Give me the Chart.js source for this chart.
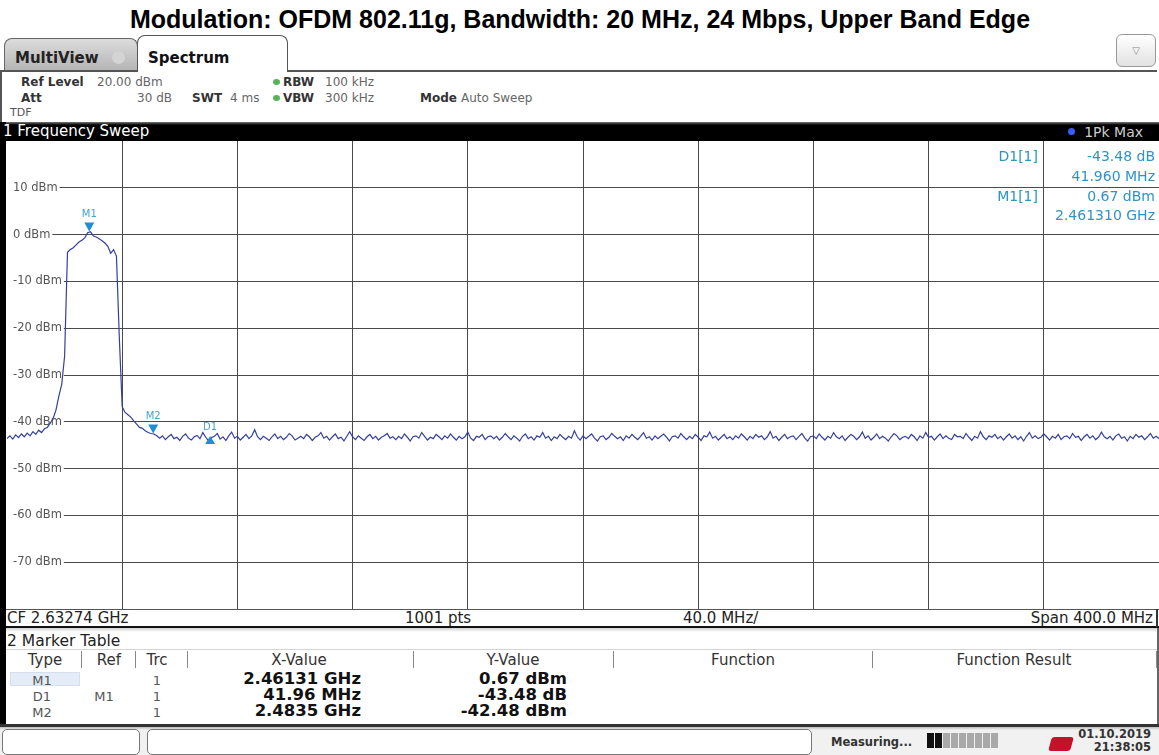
<!DOCTYPE html>
<html>
<head>
<meta charset="utf-8">
<script src="https://cdn.jsdelivr.net/npm/chart.js@4.4.0/dist/chart.umd.min.js"></script>
<style>
  html, body { margin: 0; padding: 0; background: #fff; }
  #page { position: relative; width: 1159px; height: 755px; overflow: hidden; font-family: "DejaVu Sans", sans-serif; }
  .t { position: absolute; white-space: nowrap; line-height: 1; }
  .box { position: absolute; box-sizing: border-box; }
</style>
</head>
<body>
<div id="page">
  <!-- tabs -->
  <div class="box" style="left:4px;top:38px;width:134px;height:33px;border:1px solid #666;border-bottom:none;border-radius:8px 8px 0 0;background:linear-gradient(#dcdcdc,#b4b4b4);"></div>
  <div class="box" style="left:112px;top:51px;width:13px;height:13px;border-radius:50%;background:#d4d4d4;"></div>
  <div class="box" style="left:137px;top:35px;width:151px;height:37px;border:1.5px solid #555;border-bottom:none;border-radius:8px 8px 0 0;background:#fff;"></div>
  <div class="box" style="left:0px;top:70px;width:138px;height:2px;background:#555;"></div>
  <div class="box" style="left:287px;top:70px;width:870px;height:2px;background:#555;"></div>
  <div class="box" style="left:1116px;top:34px;width:40px;height:33px;border:1px solid #999;border-radius:6px;background:linear-gradient(#fff,#e2e2e2);"></div>
  <!-- settings panel -->
  <div class="box" style="left:0px;top:70px;width:2px;height:52px;background:#555;"></div>
  <div class="box" style="left:273px;top:79px;width:7px;height:6px;border-radius:50%;background:#57b25a;"></div>
  <div class="box" style="left:273px;top:95px;width:7px;height:6px;border-radius:50%;background:#57b25a;"></div>
  <!-- trace window title bar -->
  <div class="box" style="left:0px;top:122px;width:1159px;height:19px;background:linear-gradient(#777 0px,#000 3px,#000);"></div>
  <div class="box" style="left:1068px;top:128px;width:7px;height:7px;border-radius:50%;background:#3a5cff;"></div>
  <!-- left frame -->
  <div class="box" style="left:0px;top:122px;width:6px;height:604px;background:#000;"></div>
  <!-- plot -->
  <div id="plot" style="position:absolute;left:7px;top:141px;width:1152px;height:468px;"><canvas id="spec"></canvas></div>
  <!-- CF row -->
  <div class="box" style="left:6px;top:609px;width:1153px;height:1px;background:#555;"></div>
  <div class="box" style="left:6px;top:626px;width:1153px;height:2px;background:#111;"></div>
  <div class="box" style="left:1156px;top:609px;width:2px;height:18px;background:#333;"></div>
  <!-- marker table -->
  <div class="box" style="left:6px;top:628px;width:1152px;height:4px;background:linear-gradient(#cfcfcf,#fff);"></div>
  <div class="box" style="left:6px;top:649px;width:1151px;height:1px;background:#d4d4d4;"></div>
  <div class="box" style="left:10px;top:672px;width:70px;height:14px;background:#e4edf7;border:1px solid #d3dfec;"></div>
  <div class="box" style="left:1157px;top:628px;width:2px;height:97px;background:#666;"></div>
  <div class="box" style="left:0px;top:724px;width:1159px;height:3px;background:#333;"></div>
  <!-- status bar -->
  <div class="box" style="left:0px;top:727px;width:1159px;height:28px;background:linear-gradient(#bdbdbd 0px,#f1f1f1 3px,#f1f1f1);"></div>
  <div class="box" style="left:2px;top:729px;width:138px;height:26px;border:1px solid #777;border-radius:5px;background:#fff;"></div>
  <div class="box" style="left:147px;top:729px;width:665px;height:26px;border:1px solid #777;border-radius:5px;background:#fff;"></div>
  <div class="box" style="left:1050px;top:737px;width:22px;height:14px;border-radius:3px;background:#c4122b;transform:skewX(-15deg);"></div>
  <div id="progress" class="box" style="left:927px;top:733px;width:72px;height:15px;"></div>
</div>
<script>
// frequency axis (GHz): CF 2.63274 GHz, span 400 MHz
const startGHz = 2.43274;
const stopGHz = 2.83274;
const stepGHz = 0.001;
const gridGHz = [2.47274, 2.51274, 2.55274, 2.59274, 2.63274, 2.67274, 2.71274, 2.75274, 2.79274];

// level axis (dBm)
const refLevel = 20;
const bottomLevel = -80;
const levelStep = 10;

// trace 1 (1Pk Max), dBm
const traceDbm = [
  // left noise + lower skirt
  -43.6, -43.0, -43.7, -42.8, -43.4, -42.6, -43.2, -42.4, -43.0, -42.1, -42.7, -41.8, -42.3, -41.5,
  -41.2, -40.3, -39.3, -37.5, -34.5, -32, -26, -3.8,
  // channel 11 (20 MHz)
  -3.2, -2.8, -2.2, -1.6, -1.2, -0.7, 0.4, 0.6, -0.3, -0.5, -0.9, -1.3, -1.8, -2.5, -4.0, -3.2, -4.6,
  // upper skirt
  -22, -36.8, -38, -38.5, -39.0, -39.8, -40.5, -41.2, -41.4, -41.9, -42.3, -42.5, -42.6,
  // noise floor
  -43.0, -43.5, -43.0, -43.8, -43.2, -42.7, -43.6, -43.3, -44.0, -43.1, -42.6, -43.5, -43.9, -43.2, -42.9, -43.6, -42.3, -43.3, -44.1, -43.4,
  -43.1, -42.5, -43.7, -43.2, -44.0, -43.0, -42.2, -43.5, -43.1, -43.9, -43.3, -42.7, -43.6, -43.0, -41.7, -43.2, -43.8, -43.1, -43.5, -44.0,
  -43.2, -42.6, -43.6, -43.1, -43.8, -43.3, -42.5, -43.0, -43.9, -43.5, -43.1, -43.6, -42.7, -43.2, -44.0, -43.3, -43.0, -42.3, -43.5, -43.1,
  -43.9, -43.2, -42.6, -43.6, -43.3, -44.1, -43.1, -42.1, -43.2, -43.8, -43.0, -43.5, -44.0, -43.2, -42.7, -43.6, -43.1, -43.9, -43.3, -43.0,
  -42.5, -43.5, -43.2, -43.8, -43.1, -43.6, -42.6, -43.3, -44.1, -43.2, -43.0, -43.5, -42.3, -43.1, -43.9, -43.3, -43.6, -42.7, -43.2, -43.8,
  -43.0, -43.5, -42.6, -43.3, -43.9, -43.1, -43.6, -43.2, -42.2, -43.5, -44.0, -43.1, -43.3, -42.7, -43.8, -43.2, -43.0, -43.6, -43.1, -43.9,
  -43.3, -42.5, -43.2, -43.8, -43.0, -43.5, -44.1, -43.1, -42.6, -43.6, -43.2, -43.9, -43.0, -43.3, -42.3, -43.5, -43.1, -44.0, -43.2, -43.6,
  -42.7, -43.3, -43.8, -43.1, -43.5, -41.9, -43.2, -43.9, -43.0, -43.6, -43.1, -42.6, -43.5, -44.1, -43.2, -43.0, -43.8, -43.3, -42.5, -43.1,
  -43.6, -43.2, -44.0, -43.0, -43.5, -42.7, -43.3, -43.8, -43.1, -42.3, -43.5, -43.2, -43.9, -43.0, -43.6, -43.1, -42.6, -43.3, -44.1, -43.2,
  -43.0, -43.5, -42.5, -43.2, -43.8, -43.1, -43.6, -42.7, -43.3, -44.0, -43.0, -43.2, -42.2, -43.5, -43.1, -43.9, -43.3, -42.7, -43.6, -43.2,
  -43.8, -43.0, -43.5, -42.6, -43.2, -43.9, -43.1, -43.6, -42.7, -43.3, -43.0, -43.8, -43.2, -42.1, -43.5, -43.1, -44.0, -43.3, -42.7, -43.6,
  -43.2, -43.0, -43.8, -43.1, -42.5, -43.5, -44.1, -43.2, -43.0, -43.6, -42.6, -43.3, -43.9, -43.1, -43.5, -42.3, -43.2, -43.6, -43.0, -44.0,
  -43.3, -42.7, -43.1, -43.8, -43.2, -42.2, -43.5, -43.0, -43.9, -43.3, -42.6, -43.6, -43.1, -43.5, -44.1, -43.2, -42.5, -43.0, -43.8, -43.3,
  -43.1, -43.6, -42.7, -43.2, -44.0, -43.0, -43.5, -42.3, -43.3, -43.1, -43.9, -43.2, -42.6, -43.6, -43.0, -43.5, -43.8, -42.7, -43.2, -43.1,
  -43.6, -42.5, -43.3, -44.0, -43.1, -43.5, -42.1, -43.2, -43.8, -43.0, -43.3, -42.7, -43.6, -43.1, -43.9, -43.2, -42.6, -43.5, -43.0, -43.8,
  -43.2, -44.1, -43.1, -42.3, -43.5, -43.0, -43.6, -43.3, -42.6, -43.2, -43.9, -43.1, -43.5, -42.7, -43.8, -43.2, -43.0, -43.6, -42.5, -43.3,
  -43.1, -44.0, -43.2, -42.7, -43.5, -43.0, -43.8, -43.3, -42.2, -43.2, -43.6, -43.1, -43.9, -43.0, -42.6, -43.5, -43.2, -44.1, -43.1, -43.6,
  -42.7, -43.3, -43.0, -43.8, -43.2, -42.5, -43.5, -43.1, -43.6
];

// markers
const markerNames = ['M1', 'M2', 'D1'];
const markerGHz = [2.46131, 2.4835, 2.50327];
const markerDbm = [0.67, -42.48, -42.81];
const markerUp = [false, false, true];

const page = document.getElementById('page');

const txt = (s, x, cy, size, opts = {}) => {
  const el = document.createElement('div');
  el.className = 't';
  el.textContent = s;
  el.style.fontSize = size + 'px';
  el.style.top = (cy - size / 2) + 'px';
  const align = opts.align || 'left';
  if (align === 'left') {
    el.style.left = x + 'px';
  } else if (align === 'right') {
    el.style.right = (1159 - x) + 'px';
  } else {
    el.style.left = x + 'px';
    el.style.transform = 'translateX(-50%)';
  }
  if (opts.bold) el.style.fontWeight = 'bold';
  if (opts.font) el.style.fontFamily = opts.font;
  el.style.color = opts.color || '#333';
  page.appendChild(el);
};

// title
txt('Modulation: OFDM 802.11g, Bandwidth: 20 MHz, 24 Mbps, Upper Band Edge', 580, 19, 25,
  { align: 'center', bold: true, color: '#000', font: '"Liberation Sans", Arial, sans-serif' });

// tabs
txt('MultiView', 15, 58, 15, { bold: true, color: '#222' });
txt('Spectrum', 148, 58, 15, { bold: true, color: '#111' });
txt('\u25BD', 1136, 51, 10, { align: 'center', color: '#888' });

// settings
txt('Ref Level', 21, 82, 12, { bold: true, color: '#333' });
txt('20.00 dBm', 97, 82, 12, { color: '#666' });
txt('Att', 21, 98, 12, { bold: true, color: '#333' });
txt('30 dB', 172, 98, 12, { align: 'right', color: '#666' });
txt('SWT', 192, 98, 12, { bold: true, color: '#333' });
txt('4 ms', 230, 98, 12, { color: '#666' });
txt('RBW', 283, 82, 12, { bold: true, color: '#333' });
txt('100 kHz', 325, 82, 12, { color: '#666' });
txt('VBW', 283, 98, 12, { bold: true, color: '#333' });
txt('300 kHz', 325, 98, 12, { color: '#666' });
txt('Mode', 420, 98, 12, { bold: true, color: '#333' });
txt('Auto Sweep', 461, 98, 12, { color: '#666' });
txt('TDF', 10, 112, 11, { color: '#555' });

// title bar
txt('1 Frequency Sweep', 3, 131, 15, { color: '#fff' });
txt('1Pk Max', 1143, 132, 14, { align: 'right', color: '#ccc' });

// marker readouts
const blue = '#2f93c6';
txt('D1[1]', 1038, 156, 14, { align: 'right', color: blue });
txt('-43.48 dB', 1155, 156, 14, { align: 'right', color: blue });
txt('41.960 MHz', 1155, 176, 14, { align: 'right', color: blue });
txt('M1[1]', 1038, 196, 14, { align: 'right', color: blue });
txt('0.67 dBm', 1155, 196, 14, { align: 'right', color: blue });
txt('2.461310 GHz', 1155, 215, 14, { align: 'right', color: blue });

// CF row
txt('CF 2.63274 GHz', 7, 618, 15, { color: '#222' });
txt('1001 pts', 405, 618, 15, { color: '#222' });
txt('40.0 MHz/', 683, 618, 15, { color: '#222' });
txt('Span 400.0 MHz', 1153, 618, 15, { align: 'right', color: '#222' });

// marker table
txt('2 Marker Table', 7, 642, 15.5, { color: '#222' });
const colHeads = ['Type', 'Ref', 'Trc', 'X-Value', 'Y-Value', 'Function', 'Function Result'];
const colCenters = [45, 109, 157, 299, 513, 743, 1014];
const colSeps = [81, 135, 187, 413, 613, 872, 1156];
colHeads.forEach((h, i) => txt(h, colCenters[i], 660, 15, { align: 'center', color: '#333' }));
colSeps.forEach(x => {
  const d = document.createElement('div');
  d.className = 'box';
  d.style.cssText = `left:${x}px;top:651px;width:1px;height:17px;background:#888;`;
  page.appendChild(d);
});
const rowType = ['M1', 'D1', 'M2'];
const rowRef = ['', 'M1', ''];
const rowX = ['2.46131 GHz', '41.96 MHz', '2.4835 GHz'];
const rowY = ['0.67 dBm', '-43.48 dB', '-42.48 dBm'];
const rowCy = [679, 695, 711];
rowType.forEach((t, i) => {
  txt(t, 42, rowCy[i] + 1, 13, { align: 'center', color: '#555' });
  if (rowRef[i]) txt(rowRef[i], 104, rowCy[i] + 1, 13, { align: 'center', color: '#555' });
  txt('1', 157, rowCy[i] + 1, 13, { align: 'center', color: '#555' });
  txt(rowX[i], 361, rowCy[i], 16.5, { align: 'right', bold: true, color: '#111' });
  txt(rowY[i], 567, rowCy[i], 16.5, { align: 'right', bold: true, color: '#111' });
});

// status bar
txt('Measuring...', 831, 743, 11.5, { bold: true, color: '#333' });
txt('01.10.2019', 1151, 735, 11.5, { align: 'right', bold: true, color: '#333' });
txt('21:38:05', 1151, 748, 11.5, { align: 'right', bold: true, color: '#333' });
const prog = document.getElementById('progress');
for (let i = 0; i < 9; i++) {
  const seg = document.createElement('div');
  seg.className = 'box';
  seg.style.cssText = `left:${i * 8}px;top:0;width:7px;height:15px;background:${i < 2 ? '#111' : '#a9a9a9'};`;
  prog.appendChild(seg);
}

// marker triangles + labels
const markerPlugin = {
  id: 'markers',
  afterDatasetsDraw(chart) {
    const { ctx, scales: { x, y } } = chart;
    ctx.save();
    markerNames.forEach((name, i) => {
      const px = x.getPixelForValue(markerGHz[i]);
      const py = y.getPixelForValue(markerDbm[i]);
      ctx.fillStyle = '#1e8fd2';
      ctx.beginPath();
      if (markerUp[i]) {
        ctx.moveTo(px, py + 1);
        ctx.lineTo(px - 5, py + 9);
        ctx.lineTo(px + 5, py + 9);
      } else {
        ctx.moveTo(px, py);
        ctx.lineTo(px - 5, py - 9);
        ctx.lineTo(px + 5, py - 9);
      }
      ctx.closePath();
      ctx.fill();
      ctx.fillStyle = '#45a3d3';
      ctx.font = '10px "DejaVu Sans"';
      ctx.textAlign = 'center';
      ctx.textBaseline = 'middle';
      ctx.fillText(name, px, markerUp[i] ? py - 8 : py - 17);
    });
    ctx.restore();
  }
};

const points = traceDbm.map((v, i) => ({ x: startGHz + i * stepGHz, y: v }));

new Chart(document.getElementById('spec').getContext('2d'), {
  type: 'line',
  data: {
    datasets: [{
      data: points,
      borderColor: '#35409e',
      borderWidth: 1.2,
      pointRadius: 0,
      tension: 0,
      fill: false
    }]
  },
  options: {
    responsive: true,
    maintainAspectRatio: false,
    animation: false,
    layout: { padding: 0, autoPadding: false },
    plugins: {
      legend: { display: false },
      tooltip: { enabled: false }
    },
    scales: {
      x: {
        type: 'linear',
        min: startGHz,
        max: stopGHz,
        afterBuildTicks: scale => { scale.ticks = gridGHz.map(v => ({ value: v })); },
        afterFit: scale => {
          scale.height = 0;
          scale.paddingLeft = 0;
          scale.paddingRight = 0;
        },
        ticks: { display: false },
        grid: { color: '#4a4a4a', lineWidth: 1, drawTicks: false },
        border: { display: false }
      },
      y: {
        min: bottomLevel,
        max: refLevel,
        afterFit: scale => {
          scale.width = 0;
          scale.paddingTop = 0;
          scale.paddingBottom = 0;
        },
        ticks: {
          stepSize: levelStep,
          mirror: true,
          padding: 6,
          color: '#555',
          font: { family: 'DejaVu Sans', size: 11.5 },
          showLabelBackdrop: true,
          backdropColor: '#fff',
          backdropPadding: { left: 7, right: 2, top: 1, bottom: 1 },
          callback: v => (v === refLevel || v === bottomLevel) ? null : v + ' dBm'
        },
        grid: { color: '#4a4a4a', lineWidth: 1, drawTicks: false },
        border: { display: false }
      }
    }
  },
  plugins: [markerPlugin]
});
</script>
</body>
</html>
